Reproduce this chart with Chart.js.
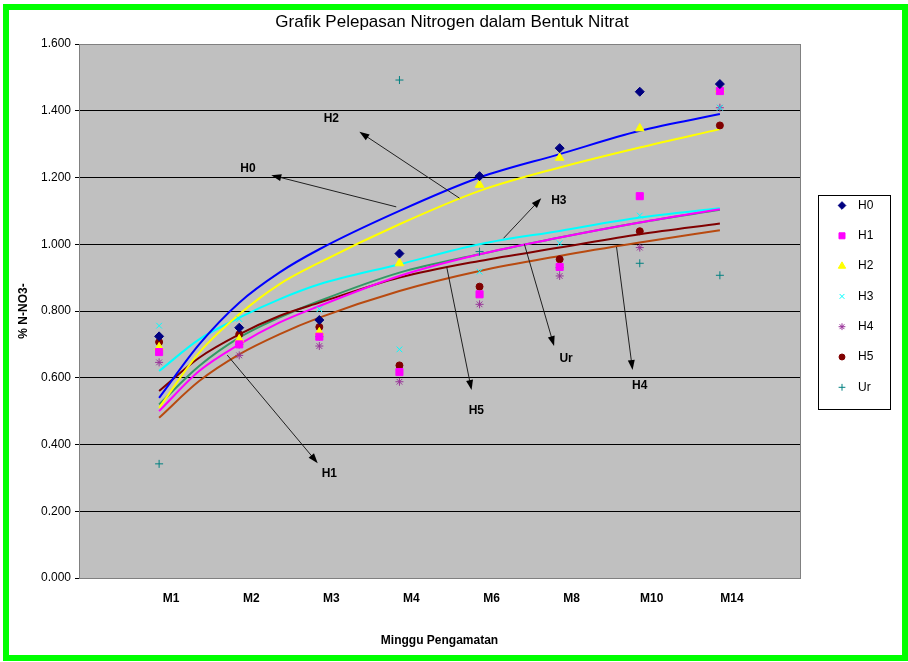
<!DOCTYPE html>
<html>
<head>
<meta charset="utf-8">
<script src="https://cdn.jsdelivr.net/npm/chart.js@4.4.1/dist/chart.umd.min.js"></script>
<style>
  html, body { margin: 0; padding: 0; background: #fff; }
  #wrap { position: relative; width: 908px; height: 662px; overflow: hidden; }
  #nitratChart { position: absolute; left: 0; top: 0; }
  #frame { position: absolute; left: 3px; top: 4px; right: 0; bottom: 1px; border: 6px solid #00ff00; pointer-events: none; }
</style>
</head>
<body>
<div id="wrap">
  <canvas id="nitratChart" width="908" height="662" style="width:908px;height:662px"></canvas>
  <div id="frame"></div>
</div>
<script>
// Grafik pelepasan nitrogen

const chartTitle = 'Grafik Pelepasan Nitrogen dalam Bentuk Nitrat';
const weeks = ['M1', 'M2', 'M3', 'M4', 'M6', 'M8', 'M10', 'M14'];
const weekPos = [1, 2, 3, 4, 5, 6, 7, 8];
const yTicks = [0, 0.2, 0.4, 0.6, 0.8, 1.0, 1.2, 1.4, 1.6];

// measured points (% N-NO3-)
const h0 = [0.724, 0.750, 0.773, 0.972, 1.204, 1.288, 1.457, 1.480];
const h1 = [0.677, 0.700, 0.723, 0.617, 0.850, 0.932, 1.144, 1.459];
const h2 = [0.691, 0.715, 0.736, 0.943, 1.178, 1.259, 1.347, 1.464];
const h3 = [0.756, 0.776, 0.805, 0.685, 0.918, 1.003, 1.086, 1.409];
const h4 = [0.646, 0.667, 0.695, 0.588, 0.820, 0.905, 0.990, 1.409];
const h5 = [0.707, 0.730, 0.752, 0.637, 0.873, 0.955, 1.039, 1.356];
const ur = [0.342, 0.700, 0.723, 1.492, 0.978, 0.930, 0.943, 0.907];

// trendlines (extra readings between M1 and M3 where they bend)
const trendPos = [1, 1.5, 2, 2.5, 3, 4, 5, 6, 7, 8];
const h0Trend = [0.54, 0.70, 0.825, 0.915, 0.985, 1.10, 1.20, 1.27, 1.34, 1.39];
const h1Trend = [0.50, 0.62, 0.70, 0.765, 0.815, 0.905, 0.97, 1.02, 1.065, 1.105];
const h2Trend = [0.51, 0.675, 0.79, 0.88, 0.945, 1.06, 1.16, 1.23, 1.29, 1.345];
const h3Trend = [0.62, 0.715, 0.78, 0.835, 0.88, 0.94, 1.00, 1.04, 1.08, 1.108];
const h4Trend = [0.48, 0.59, 0.67, 0.73, 0.78, 0.86, 0.92, 0.965, 1.005, 1.042];
const h5Trend = [0.56, 0.66, 0.73, 0.785, 0.825, 0.90, 0.95, 0.99, 1.03, 1.062];
const urTrend = [0.52, 0.635, 0.72, 0.78, 0.83, 0.915, 0.97, 1.02, 1.065, 1.103];

// callout arrows [x, y] in chart values
const callouts = [
    { text: 'H0', from: [3.96, 1.112], to: [2.40, 1.207], at: [2.11, 1.226] },
    { text: 'H2', from: [4.75, 1.138], to: [3.50, 1.337], at: [3.15, 1.377] },
    { text: 'H3', from: [5.30, 1.018], to: [5.77, 1.138], at: [5.99, 1.130] },
    { text: 'H1', from: [1.85, 0.668], to: [2.98, 0.344], at: [3.125, 0.314] },
    { text: 'H5', from: [4.59, 0.932], to: [4.90, 0.563], at: [4.96, 0.501] },
    { text: 'Ur', from: [5.56, 1.000], to: [5.93, 0.695], at: [6.08, 0.658] },
    { text: 'H4', from: [6.71, 0.992], to: [6.91, 0.623], at: [7.00, 0.575] }
];

const FONT = "'Liberation Sans', Arial, sans-serif";

const series = [
    { label: 'H0', values: h0, trend: h0Trend, style: 'rectRot', radius: 4.5, color: '#000080', line: '#0000ff' },
    { label: 'H1', values: h1, trend: h1Trend, style: 'rect', radius: 5, color: '#ff00ff', line: '#ff00ff' },
    { label: 'H2', values: h2, trend: h2Trend, style: 'triangle', radius: 5, color: '#ffff00', line: '#ffff00' },
    { label: 'H3', values: h3, trend: h3Trend, style: 'crossRot', radius: 4, color: '#00ffff', line: '#00ffff' },
    { label: 'H4', values: h4, trend: h4Trend, style: 'star', radius: 4, color: '#993399', line: '#b84a10' },
    { label: 'H5', values: h5, trend: h5Trend, style: 'circle', radius: 3.5, color: '#800000', line: '#800000' },
    { label: 'Ur', values: ur, trend: urTrend, style: 'cross', radius: 4, color: '#008080', line: '#339966' }
];

function toPoints(xs, arr) {
    return xs.map((x, i) => ({ x: x, y: arr[i] }));
}

const markerSets = series.map(s => ({
    label: s.label,
    data: toPoints(weekPos, s.values),
    showLine: false,
    pointStyle: s.style,
    pointRadius: s.radius,
    pointBackgroundColor: s.color,
    pointBorderColor: s.color,
    pointBorderWidth: 1,
    order: 1
}));

const trendSets = series.map(s => ({
    label: s.label + ' trend',
    data: toPoints(trendPos, s.trend),
    showLine: true,
    pointRadius: 0,
    borderColor: s.line,
    borderWidth: 2,
    cubicInterpolationMode: 'monotone',
    order: 2
}));

// gray plot area, right border, title
const plotBackground = {
    id: 'plotBackground',
    beforeDraw(chart) {
        const a = chart.chartArea;
        const ctx = chart.ctx;
        ctx.save();
        ctx.fillStyle = '#c0c0c0';
        ctx.fillRect(a.left, a.top, a.right - a.left, a.bottom - a.top);
        ctx.fillStyle = '#000';
        ctx.font = '17px ' + FONT;
        ctx.textAlign = 'center';
        ctx.textBaseline = 'middle';
        ctx.fillText(chartTitle, chart.width / 2 - 2, 22);
        ctx.restore();
    },
    afterDraw(chart) {
        const a = chart.chartArea;
        const ctx = chart.ctx;
        ctx.save();
        ctx.strokeStyle = '#808080';
        ctx.lineWidth = 1;
        ctx.beginPath();
        ctx.moveTo(Math.round(a.right) + 0.5, a.top);
        ctx.lineTo(Math.round(a.right) + 0.5, a.bottom);
        ctx.stroke();
        ctx.restore();
    }
};

// arrows with H0..Ur labels
const calloutPlugin = {
    id: 'callouts',
    afterDatasetsDraw(chart) {
        const xs = chart.scales.x, ys = chart.scales.y;
        const ctx = chart.ctx;
        ctx.save();
        callouts.forEach(c => {
            const x1 = xs.getPixelForValue(c.from[0]), y1 = ys.getPixelForValue(c.from[1]);
            const x2 = xs.getPixelForValue(c.to[0]), y2 = ys.getPixelForValue(c.to[1]);
            const ang = Math.atan2(y2 - y1, x2 - x1);
            ctx.strokeStyle = '#202020';
            ctx.fillStyle = '#000';
            ctx.lineWidth = 1;
            ctx.beginPath();
            ctx.moveTo(x1, y1);
            ctx.lineTo(x2 - Math.cos(ang) * 6, y2 - Math.sin(ang) * 6);
            ctx.stroke();
            ctx.beginPath();
            ctx.moveTo(x2, y2);
            ctx.lineTo(x2 - Math.cos(ang) * 10 + Math.sin(ang) * 3.5, y2 - Math.sin(ang) * 10 - Math.cos(ang) * 3.5);
            ctx.lineTo(x2 - Math.cos(ang) * 10 - Math.sin(ang) * 3.5, y2 - Math.sin(ang) * 10 + Math.cos(ang) * 3.5);
            ctx.closePath();
            ctx.fill();
            ctx.font = 'bold 12px ' + FONT;
            ctx.textAlign = 'center';
            ctx.textBaseline = 'middle';
            ctx.fillText(c.text, xs.getPixelForValue(c.at[0]), ys.getPixelForValue(c.at[1]));
        });
        ctx.restore();
    }
};

// boxed legend on the right, markers only
const boxLegend = {
    id: 'boxLegend',
    afterDraw(chart) {
        const ctx = chart.ctx;
        const a = chart.chartArea;
        const x0 = Math.round(a.right) + 18, y0 = 195, w = 72, h = 214;
        ctx.save();
        ctx.fillStyle = '#fff';
        ctx.fillRect(x0, y0, w, h);
        ctx.strokeStyle = '#000';
        ctx.lineWidth = 1;
        ctx.strokeRect(x0 + 0.5, y0 + 0.5, w, h);
        series.forEach((s, i) => {
            const y = y0 + 10.5 + i * 30.3;
            ctx.fillStyle = s.color;
            ctx.strokeStyle = s.color;
            ctx.lineWidth = 1;
            if (Chart.helpers && Chart.helpers.drawPoint) {
                Chart.helpers.drawPoint(ctx, { pointStyle: s.style, radius: s.radius * 0.85, borderWidth: 1, rotation: 0 }, x0 + 24, y);
            }
            ctx.fillStyle = '#000';
            ctx.font = '12px ' + FONT;
            ctx.textAlign = 'left';
            ctx.textBaseline = 'middle';
            ctx.fillText(s.label, x0 + 40, y);
        });
        ctx.restore();
    }
};

const ctx = document.getElementById('nitratChart');
const nitratChart = new Chart(ctx, {
    type: 'scatter',
    data: {
        datasets: markerSets.concat(trendSets)
    },
    options: {
        responsive: false,
        animation: false,
        events: [],
        layout: {
            padding: { left: 8, right: 108, top: 44, bottom: 0 }
        },
        plugins: {
            legend: { display: false },
            tooltip: { enabled: false },
            title: { display: false }
        },
        scales: {
            x: {
                type: 'linear',
                min: 0,
                max: 9,
                afterFit(scale) { scale.height = 84; },
                afterBuildTicks(scale) {
                    scale.ticks = [0].concat(weekPos, [9]).map(v => ({ value: v }));
                },
                grid: { display: false, drawTicks: false },
                border: { color: '#808080' },
                ticks: {
                    autoSkip: false,
                    maxRotation: 0,
                    padding: 13,
                    labelOffset: 12,
                    color: '#000',
                    font: { family: FONT, size: 12, weight: 'bold' },
                    callback: function(v) {
                        const i = weekPos.indexOf(v);
                        return i >= 0 ? weeks[i] : '';
                    }
                },
                title: {
                    display: true,
                    text: 'Minggu Pengamatan',
                    color: '#000',
                    font: { family: FONT, size: 12, weight: 'bold' },
                    padding: { top: 0, bottom: 14 }
                }
            },
            y: {
                min: 0,
                max: 1.6,
                afterFit(scale) { scale.width = 71; },
                afterBuildTicks(scale) {
                    scale.ticks = yTicks.map(v => ({ value: v }));
                },
                grid: {
                    color: c => (c.tick && c.tick.value === 1.6) ? '#808080' : '#000',
                    tickColor: '#000',
                    tickLength: 4
                },
                border: { color: '#808080' },
                ticks: {
                    padding: 4,
                    color: '#000',
                    font: { family: FONT, size: 12 },
                    callback: v => v.toFixed(3)
                },
                title: {
                    display: true,
                    text: '% N-NO3-',
                    color: '#000',
                    font: { family: FONT, size: 12, weight: 'bold' },
                    padding: { top: 8, bottom: 0 }
                }
            }
        }
    },
    plugins: [plotBackground, calloutPlugin, boxLegend]
});
</script>
</body>
</html>
